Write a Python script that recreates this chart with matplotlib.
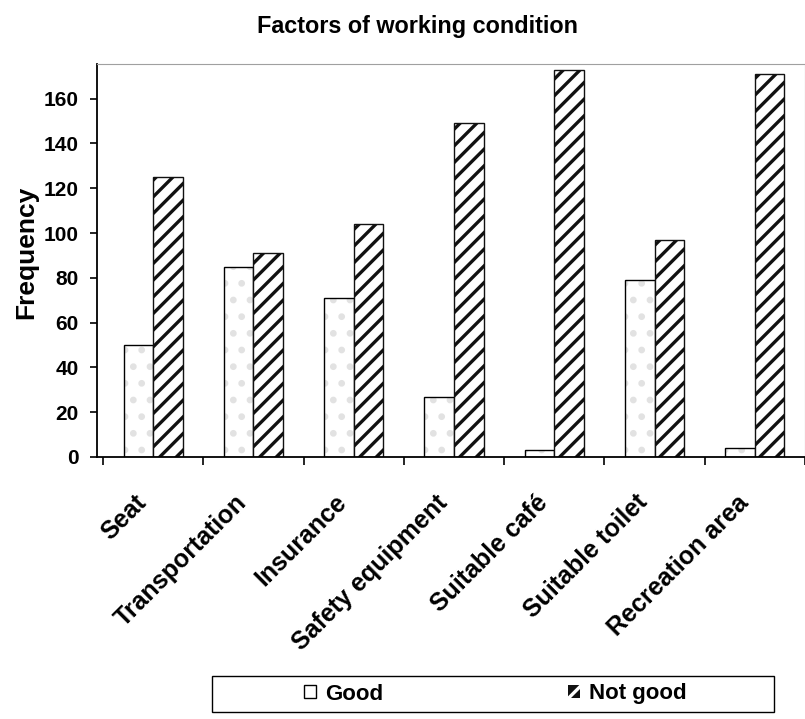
import numpy as np
import matplotlib
matplotlib.use("Agg")
import matplotlib.pyplot as plt
import matplotlib.transforms as mtransforms
from matplotlib.patches import Patch, Rectangle

plt.rcParams['font.family'] = ['Liberation Sans', 'DejaVu Sans']
plt.rcParams['hatch.linewidth'] = 2.4

categories = ['Seat', 'Transportation', 'Insurance', 'Safety equipment',
              'Suitable café', 'Suitable toilet', 'Recreation area']
good = [50, 85, 71, 27, 3, 79, 4]
not_good = [125, 91, 104, 149, 173, 97, 171]
y_ticks = [0, 20, 40, 60, 80, 100, 120, 140, 160]

fig = plt.figure(figsize=(8.05, 7.19), dpi=100)
ax = fig.add_axes([97 / 805, 1 - 457 / 719, 708 / 805, 393 / 719])

x = np.arange(len(categories))
w = 0.295

# good bars: faint dotted fill + black outline
ax.bar(x - w / 2, good, w, color='white', edgecolor='#e2e2e2', hatch='.', linewidth=0)
ax.bar(x - w / 2, good, w, fill=False, edgecolor='black', linewidth=1.0)
# not good bars: black/white diagonal stripes
ax.bar(x + w / 2, not_good, w, color='white', edgecolor='#111111', hatch='//', linewidth=1.0)

ax.set_xlim(-0.56, 6.43)
ax.set_ylim(0, 175.5)
ax.set_yticks(y_ticks)
ax.set_yticklabels([str(v) for v in y_ticks], fontsize=15, fontweight='bold')
ax.tick_params(axis='y', direction='out', length=5, width=1.2, pad=8)

ax.set_xticks(x)
ax.set_xticklabels(categories, rotation=45, ha='right', rotation_mode='anchor',
                   fontsize=18, fontweight='bold')
ax.tick_params(axis='x', which='major', length=0, pad=24)
shift = mtransforms.ScaledTranslation(-0.19, 0, fig.dpi_scale_trans)
for lab in ax.get_xticklabels():
    lab.set_transform(lab.get_transform() + shift)
ax.set_xticks(np.arange(-0.5, len(categories), 1.0), minor=True)
ax.tick_params(axis='x', which='minor', direction='out', length=6, width=1.2)

for side in ['top', 'right']:
    ax.spines[side].set_color('#a0a0a0')
    ax.spines[side].set_linewidth(0.8)
for side in ['left', 'bottom']:
    ax.spines[side].set_linewidth(1.3)

ax.set_ylabel('Frequency', fontsize=19, fontweight='bold')
ax.yaxis.set_label_coords(-0.083, 0.52)
fig.text(0.519, 1 - 33 / 719, 'Factors of working condition', ha='center', va='baseline',
         fontsize=16.8, fontweight='bold')

# legend in a framed box below the chart
fig.patches.append(Rectangle((212 / 805, 1 - 712 / 719), 562 / 805, 36 / 719,
                             transform=fig.transFigure, fill=False,
                             edgecolor='black', linewidth=1.0))
handles = [Patch(facecolor='white', edgecolor='black', label='Good'),
           Patch(facecolor='#111111', edgecolor='white', hatch='/', linewidth=0,
                 label='Not good')]
fig.legend(handles=handles, loc='center', bbox_to_anchor=(0.6155, 1 - 694 / 719), ncol=2,
           frameon=False, handlelength=0.55, handleheight=0.55, handletextpad=0.4,
           columnspacing=8.3, prop={'size': 16, 'weight': 'bold'})

fig.savefig('out.png', dpi=100)
